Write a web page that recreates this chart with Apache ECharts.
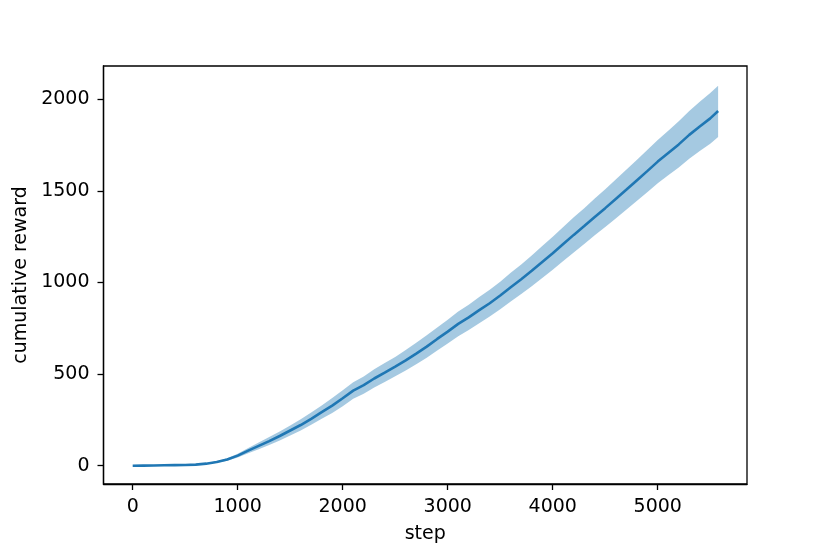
<!DOCTYPE html>
<html>
<head>
<meta charset="utf-8">
<script src="https://cdn.jsdelivr.net/npm/echarts@6/dist/echarts.min.js"></script>
<style>html,body{margin:0;padding:0;background:#fff}#c{width:830px;height:554px}</style>
</head>
<body>
<div id="c"></div>
<script>
const steps = [0,100,200,300,400,500,600,700,800,900,1000,1100,1200,1300,1400,1500,1600,1700,1800,1900,2000,2100,2200,2300,2400,2500,2600,2700,2800,2900,3000,3100,3200,3300,3400,3500,3600,3700,3800,3900,4000,4100,4200,4300,4400,4500,4600,4700,4800,4900,5000,5100,5200,5300,5400,5500,5575];
const meanReward = [0,0.5,1,2,3,4,6,11,20,34,55,82,108,134,162,192,222,256,292,328,368,410,440,476,508,541,575,612,650,692,732,774,810,849,887,929,974,1018,1064,1112,1160,1210,1260,1308,1358,1406,1456,1506,1557,1608,1660,1707,1754,1806,1852,1896,1936];
const upperReward = [0,0.5,1.5,2.5,4,5,8,14,24,41,65,96,126,156,187,220,253,290,329,369,412,456,487,526,560,594,631,671,712,754,797,842,879,921,960,1004,1053,1099,1148,1199,1250,1303,1356,1406,1459,1509,1562,1615,1669,1723,1778,1829,1880,1936,1987,2034,2074];
const lowerReward = [0,0.5,0.5,1.5,2,3,4,8,16,27,45,68,90,113,138,165,192,223,256,288,325,365,393,427,457,488,520,554,589,629,667,707,741,778,814,854,896,937,980,1025,1070,1117,1164,1210,1258,1303,1350,1397,1445,1493,1542,1585,1628,1676,1718,1758,1794];
const xTicks = [0,1000,2000,3000,4000,5000];
const yTicks = [0,500,1000,1500,2000];

const font = 'DejaVu Sans';
const fs = 19;
const chart = echarts.init(document.getElementById('c'), null, {renderer:'canvas'});
chart.setOption({
  animation:false,
  backgroundColor:'#fff',
  grid:{left:103.5,right:83,top:66,bottom:70,show:true,borderColor:'#000',borderWidth:1.3,backgroundColor:'transparent'},
  xAxis:{type:'value',min:-278,max:5850,
    name:'step',nameLocation:'middle',nameGap:41,
    nameTextStyle:{fontFamily:font,fontSize:fs,color:'#000'},
    axisLine:{show:true,onZero:false,lineStyle:{color:'#000',width:1.3}},
    axisTick:{show:true,inside:false,length:6,lineStyle:{color:'#000',width:1.3},customValues:xTicks},
    axisLabel:{fontFamily:font,fontSize:fs,color:'#000',margin:14,customValues:xTicks,formatter:v=>String(v)},
    splitLine:{show:false}},
  yAxis:{type:'value',min:-100,max:2182,
    name:'cumulative reward',nameLocation:'middle',nameGap:70,
    nameTextStyle:{fontFamily:font,fontSize:fs,color:'#000'},
    axisLine:{show:true,onZero:false,lineStyle:{color:'#000',width:1.3}},
    axisTick:{show:true,inside:false,length:6,lineStyle:{color:'#000',width:1.3},customValues:yTicks},
    axisLabel:{fontFamily:font,fontSize:fs,color:'#000',margin:14,customValues:yTicks,formatter:v=>String(v)},
    splitLine:{show:false}},
  series:[
    {type:'custom',clip:true,z:1,
     data:steps.map((s,i)=>[s,upperReward[i]]),
     renderItem:function(params,api){
       if(params.dataIndex!==0) return null;
       const pts=[];
       for(let i=0;i<steps.length;i++) pts.push(api.coord([steps[i],upperReward[i]]));
       for(let i=steps.length-1;i>=0;i--) pts.push(api.coord([steps[i],lowerReward[i]]));
       return {type:'polygon',shape:{points:pts},style:{fill:'rgba(31,119,180,0.4)',stroke:null}};
     }},
    {type:'line',z:3,showSymbol:false,symbol:'none',
     data:steps.map((s,i)=>[s,meanReward[i]]),
     lineStyle:{color:'#1f77b4',width:2.6},itemStyle:{color:'#1f77b4'}}
  ]
});
</script>
</body>
</html>
